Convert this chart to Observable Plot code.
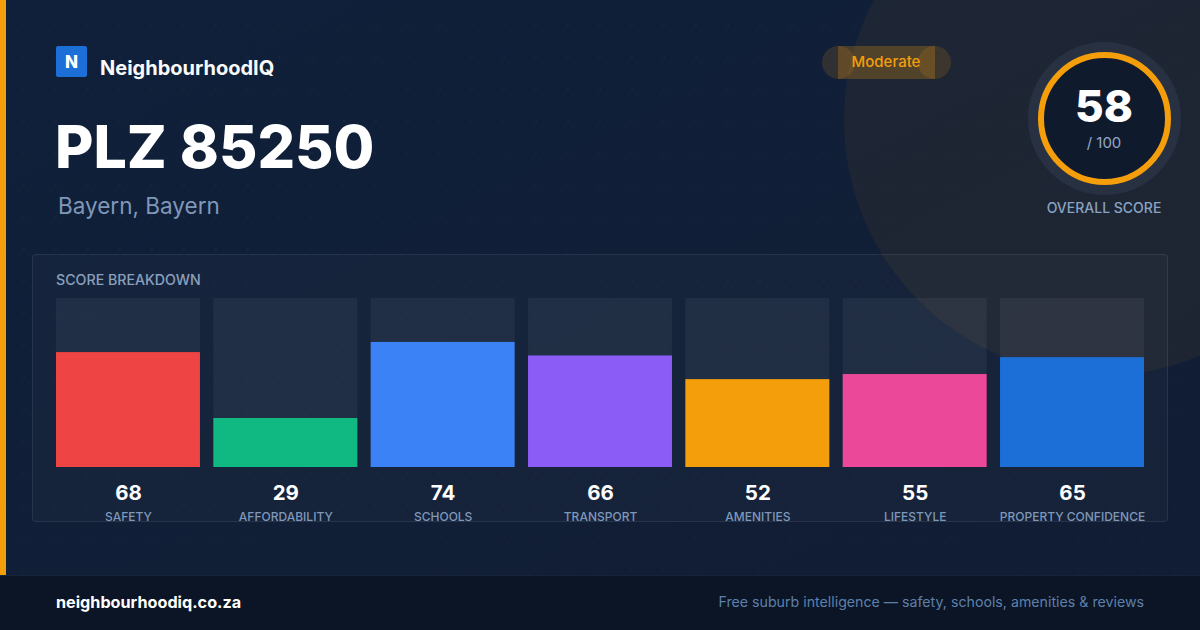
<!DOCTYPE html>
<html>
<head>
<meta charset="utf-8">
<script src="https://cdn.jsdelivr.net/npm/d3@7"></script>
<script src="https://cdn.jsdelivr.net/npm/@observablehq/plot@0.6"></script>
<style>
  html, body { margin: 0; padding: 0; background: #0b1526; }
  #card { position: relative; width: 1200px; height: 630px; overflow: hidden; font-family: Inter, "Noto Sans", sans-serif; }
  #card > svg { position: absolute; left: 0; top: 0; }
  #plot { position: absolute; left: 0; top: 0; width: 1200px; height: 630px; }
  #plot svg { display: block; }
</style>
</head>
<body>
<div id="card">
  <svg id="bg" width="1200" height="630" viewBox="0 0 1200 630" xmlns="http://www.w3.org/2000/svg" font-family="Inter, 'Noto Sans', sans-serif">
    <defs>
      <linearGradient id="bgGrad" x1="0" y1="0" x2="1" y2="1">
        <stop offset="0" stop-color="#10203a"/>
        <stop offset="1" stop-color="#111d34"/>
      </linearGradient>
      <pattern id="dots" x="0" y="0" width="32" height="32" patternUnits="userSpaceOnUse">
        <circle cx="24" cy="25" r="1" fill="#ffffff" fill-opacity="0.035"/>
      </pattern>
    </defs>
    <rect x="0" y="0" width="1200" height="630" fill="url(#bgGrad)"/>
    <rect x="0" y="0" width="1200" height="575" fill="url(#dots)"/>
    <circle cx="1100" cy="120" r="256" fill="#f59e0b" fill-opacity="0.06"/>
    <!-- panel -->
    <rect x="32.5" y="254.5" width="1135" height="267" rx="3" fill="#ffffff" fill-opacity="0.025" stroke="#ffffff" stroke-opacity="0.09"/>
    <!-- left stripe -->
    <rect x="0" y="0" width="6" height="575" fill="#f59e0b"/>
    <!-- footer -->
    <rect x="0" y="575" width="1200" height="55" fill="#0b1526"/>
    <line x1="0" x2="1200" y1="575.5" y2="575.5" stroke="#172339"/>
    <!-- logo -->
    <rect x="56" y="46" width="31" height="31" rx="2" fill="#1d6fd8"/>
    <text x="71.5" y="67.5" text-anchor="middle" font-size="17" font-weight="800" fill="#ffffff">N</text>
    <text x="100" y="75" font-size="20" font-weight="700" fill="#f8fafc">NeighbourhoodIQ</text>
    <!-- title -->
    <text x="55" y="168" font-size="59" font-weight="800" fill="#ffffff">PLZ 85250</text>
    <text x="58" y="214" font-size="22.5" font-weight="400" fill="#7f97b8">Bayern, Bayern</text>
    <!-- pill -->
    <circle cx="838.5" cy="62.5" r="16.5" fill="#f59e0b" fill-opacity="0.14"/>
    <circle cx="934.5" cy="62.5" r="16.5" fill="#f59e0b" fill-opacity="0.14"/>
    <rect x="838" y="46" width="97" height="33" fill="#f59e0b" fill-opacity="0.24"/>
    <text x="886" y="67" text-anchor="middle" font-size="15" font-weight="500" fill="#f59e0b">Moderate</text>
    <!-- score ring -->
    <circle cx="1104.5" cy="118.5" r="76.5" fill="#283142"/>
    <circle cx="1104.5" cy="118.5" r="63.5" fill="#101a2d" stroke="#f59e0b" stroke-width="6"/>
    <text x="1104" y="122" text-anchor="middle" font-size="44" font-weight="800" fill="#ffffff">58</text>
    <text x="1104" y="148" text-anchor="middle" font-size="15" font-weight="400" fill="#94a9c6">/ 100</text>
    <text x="1104" y="213" text-anchor="middle" font-size="14" font-weight="500" fill="#8aa3c3">OVERALL SCORE</text>
    <!-- panel title -->
    <text x="56" y="285" font-size="14.2" font-weight="500" fill="#8aa0bd">SCORE BREAKDOWN</text>
    <!-- footer texts -->
    <text x="56" y="608" font-size="16.2" font-weight="700" fill="#ffffff">neighbourhoodiq.co.za</text>
    <text x="1144" y="607" text-anchor="end" font-size="14.2" font-weight="400" fill="#5e80aa">Free suburb intelligence — safety, schools, amenities &amp; reviews</text>
  </svg>
  <div id="plot"></div>
</div>
<script>
const categories = ["SAFETY", "AFFORDABILITY", "SCHOOLS", "TRANSPORT", "AMENITIES", "LIFESTYLE", "PROPERTY CONFIDENCE"];
const values = [68, 29, 74, 66, 52, 55, 65];
const barColors = ["#ef4444", "#10b981", "#3b82f6", "#8b5cf6", "#f59e0b", "#ec4899", "#1d6fd8"];
const scoreMax = 100;

const data = categories.map((c, i) => ({category: c, value: values[i]}));

const chart = Plot.plot({
  width: 1200,
  height: 630,
  marginLeft: 56,
  marginRight: 56,
  marginTop: 298,
  marginBottom: 163,
  style: {background: "transparent", overflow: "visible", fontFamily: "Inter, 'Noto Sans', sans-serif"},
  x: {domain: categories, paddingInner: 0.085, paddingOuter: 0, round: false, axis: null},
  y: {domain: [0, scoreMax], axis: null},
  color: {domain: categories, range: barColors},
  marks: [
    Plot.barY(data, {x: "category", y: () => scoreMax, fill: "#ffffff", fillOpacity: 0.05}),
    Plot.barY(data, {x: "category", y: "value", fill: "category"}),
    Plot.text(data, {x: "category", frameAnchor: "bottom", text: d => String(d.value), dy: 32, lineAnchor: "bottom", fontSize: 20.5, fontWeight: 700, fill: "#ffffff"}),
    Plot.text(data, {x: "category", frameAnchor: "bottom", text: "category", dy: 53, lineAnchor: "bottom", fontSize: 12, fontWeight: 500, fill: "#7f98ba", letterSpacing: "0.4px"})
  ]
});
document.getElementById("plot").appendChild(chart);
</script>
</body>
</html>
